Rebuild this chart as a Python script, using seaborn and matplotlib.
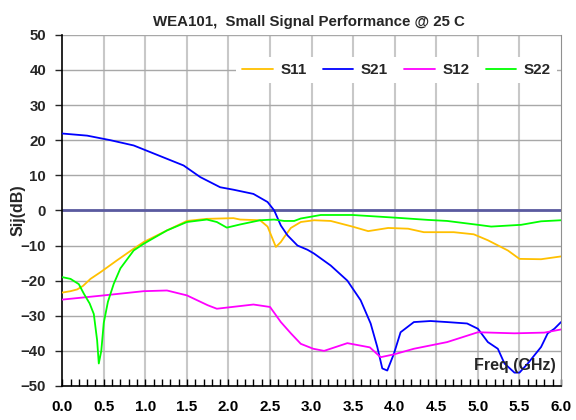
import numpy as np
import pandas as pd
import seaborn as sns
import matplotlib
matplotlib.use("Agg")
import matplotlib.pyplot as plt
from matplotlib.ticker import MultipleLocator

# S-parameter curves (freq in GHz, value in dB)
s11_f = [0.0, 0.1, 0.18, 0.25, 0.34, 0.46, 0.66, 0.86, 0.98, 1.26, 1.5, 1.74, 2.06, 2.14, 2.38, 2.47,
         2.52, 2.57, 2.63, 2.67, 2.75, 2.87, 3.03, 3.23, 3.49, 3.68, 3.92, 4.16, 4.35, 4.71, 4.95,
         5.12, 5.36, 5.5, 5.76, 6.0]
s11_db = [-23.4, -23.0, -22.5, -21.5, -19.5, -17.6, -14.2, -10.9, -9.0, -5.7, -3.0, -2.4, -2.2, -2.6,
          -2.8, -4.6, -7.5, -10.4, -9.0, -7.6, -5.0, -3.3, -2.8, -3.0, -4.6, -5.9, -5.0, -5.2, -6.2,
          -6.2, -6.8, -8.5, -11.4, -13.8, -13.9, -13.1]

s21_f = [0.0, 0.3, 0.58, 0.86, 1.26, 1.46, 1.66, 1.9, 2.06, 2.3, 2.47, 2.55, 2.63, 2.71, 2.83, 2.95,
         3.03, 3.23, 3.43, 3.59, 3.71, 3.79, 3.85, 3.91, 3.99, 4.07, 4.23, 4.43, 4.63, 4.87, 5.0,
         5.12, 5.24, 5.32, 5.44, 5.5, 5.6, 5.76, 5.84, 5.92, 6.0]
s21_db = [21.9, 21.3, 20.0, 18.5, 14.7, 12.8, 9.5, 6.6, 5.9, 4.7, 2.4, 0.0, -4.3, -7.1, -10.0, -11.2,
          -12.3, -15.7, -20.0, -25.6, -32.2, -38.9, -45.0, -45.6, -40.8, -34.7, -31.8, -31.5, -31.8,
          -32.2, -33.7, -37.5, -39.4, -43.6, -46.2, -46.2, -43.6, -38.9, -35.0, -33.7, -31.8]

s12_f = [0.0, 0.5, 0.98, 1.26, 1.5, 1.75, 1.86, 2.3, 2.5, 2.63, 2.75, 2.87, 3.02, 3.15, 3.43, 3.7,
         3.83, 3.99, 4.23, 4.63, 5.0, 5.44, 5.8, 6.0]
s12_db = [-25.4, -24.2, -23.0, -22.8, -24.2, -27.0, -28.0, -26.8, -27.5, -31.8, -35.0, -38.0, -39.4,
          -40.0, -37.8, -39.0, -41.8, -41.0, -39.4, -37.5, -34.7, -35.0, -34.8, -33.9]

s22_f = [0.0, 0.1, 0.2, 0.26, 0.33, 0.38, 0.42, 0.44, 0.47, 0.5, 0.55, 0.62, 0.7, 0.86, 0.98, 1.26,
         1.5, 1.74, 1.86, 1.98, 2.14, 2.38, 2.55, 2.67, 2.79, 2.87, 3.11, 3.49, 4.03, 4.4, 4.63,
         5.0, 5.16, 5.52, 5.76, 6.0]
s22_db = [-19.0, -19.5, -21.0, -23.7, -26.5, -29.5, -37.0, -43.6, -40.0, -32.0, -26.0, -20.9, -16.5,
          -11.4, -9.5, -5.7, -3.3, -2.6, -3.3, -4.9, -4.0, -2.8, -2.6, -3.0, -3.0, -2.3, -1.3, -1.3,
          -2.1, -2.7, -3.0, -4.1, -4.6, -4.1, -3.1, -2.8]

series = [("S11", s11_f, s11_db, "#FFC000"),
          ("S21", s21_f, s21_db, "#0000FF"),
          ("S12", s12_f, s12_db, "#FF00FF"),
          ("S22", s22_f, s22_db, "#00FF00")]

sns.set_style("white")
plt.rcParams["font.family"] = ["Liberation Sans", "DejaVu Sans"]
plt.rcParams["font.weight"] = "bold"

fig = plt.figure(figsize=(5.76, 4.2), dpi=100)
ax = fig.add_axes([0.108, 0.081, 0.866, 0.836])

# grid first so curves sit above it
for xv in np.arange(0.5, 6.0, 0.5):
    ax.axvline(xv, color="#c8c8c8", lw=1.5, zorder=0)
for yv in np.arange(-40, 51, 10):
    ax.axhline(yv, color="#a8a8a8", lw=1.0, zorder=0)
ax.axhline(0, color="#5a5aa0", lw=2.0, zorder=1)

for name, f, db, col in series:
    df = pd.DataFrame({"freq": f, "db": db})
    sns.lineplot(data=df, x="freq", y="db", color=col, lw=1.3, label=name, ax=ax, zorder=3)

ax.set_xlim(0, 6)
ax.set_ylim(-50, 50)
ax.xaxis.set_major_locator(MultipleLocator(0.5))
ax.xaxis.set_minor_locator(MultipleLocator(0.1))
ax.yaxis.set_major_locator(MultipleLocator(10))
ax.xaxis.set_major_formatter(matplotlib.ticker.FormatStrFormatter("%.1f"))
ax.tick_params(axis="x", which="both", direction="in", length=5, width=1, colors="black",
               labelsize=11, pad=10, bottom=True)
ax.tick_params(axis="y", direction="out", length=5, width=1, labelsize=10.8, pad=6.5, left=True)

for s in ["left", "bottom"]:
    ax.spines[s].set_color("black")
    ax.spines[s].set_linewidth(1.2)
ax.spines["right"].set_color("#909090")
ax.spines["top"].set_visible(False)

ax.set_xlabel("")
ax.set_ylabel("Sij(dB)", fontsize=11.5, fontweight="bold")
ax.yaxis.set_label_coords(-0.074, 0.5)
ax.set_title("WEA101,  Small Signal Performance @ 25 C", fontsize=10.8, fontweight="bold",
             x=0.495, pad=6.7)
ax.text(5.94, -44.2, "Freq (GHz)", ha="right", va="center", fontsize=11.5,
        fontweight="bold", zorder=5)

leg = ax.legend(ncol=4, loc="center right", bbox_to_anchor=(0.992, 0.9), frameon=True,
                facecolor="white", edgecolor="none", framealpha=1, fancybox=False,
                handlelength=2.0, handletextpad=0.5, columnspacing=1.05, borderpad=0.4,
                borderaxespad=0, prop={"weight": "bold", "size": 11})
leg.set_zorder(4)

fig.savefig("out.png", dpi=100)
